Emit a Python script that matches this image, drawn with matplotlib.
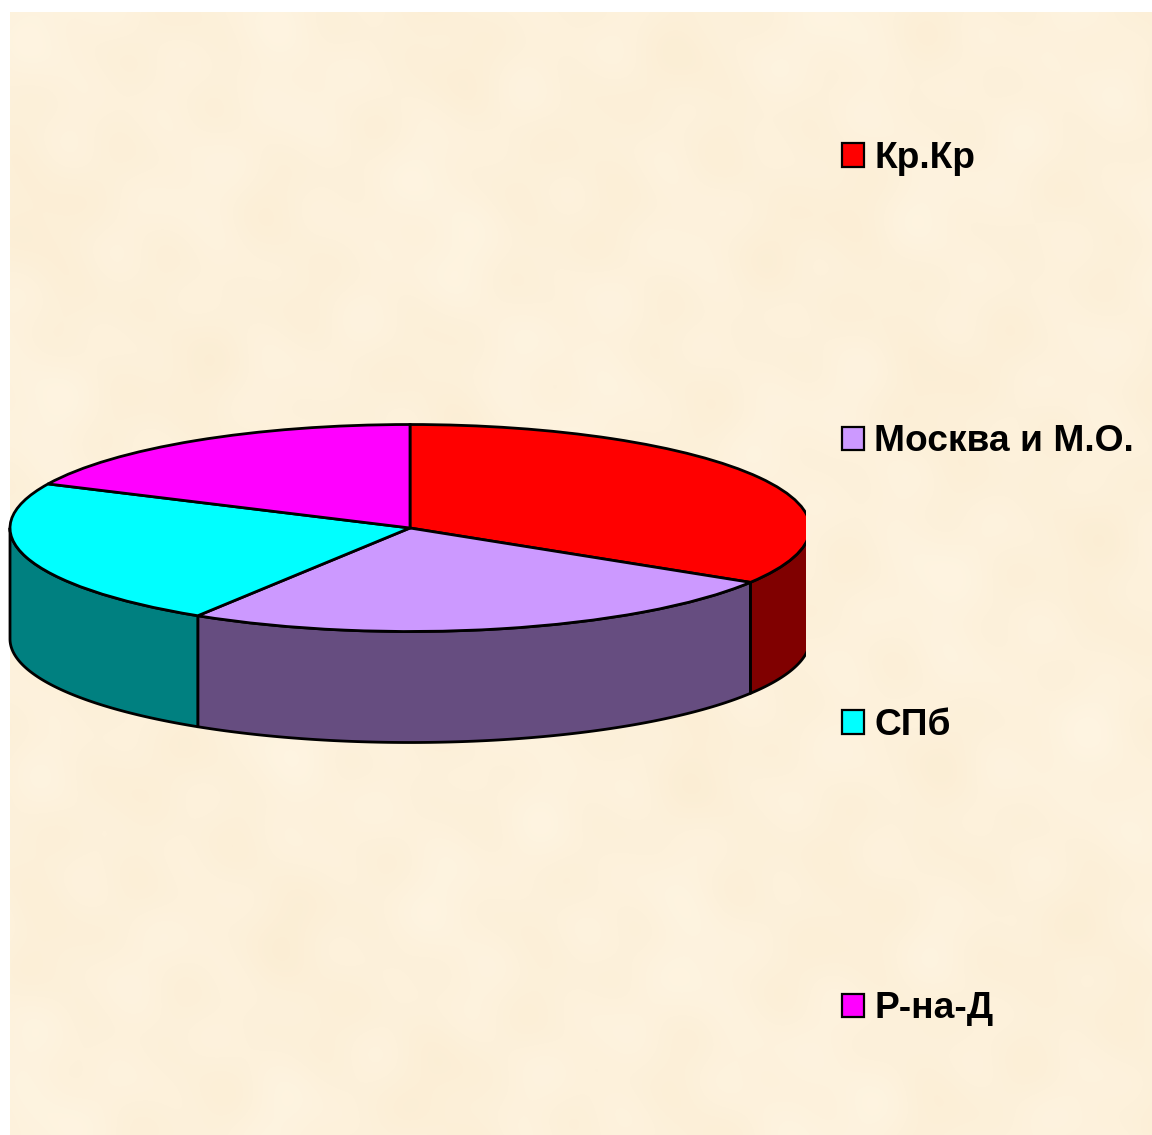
import numpy as np
import matplotlib
matplotlib.use("Agg")
import matplotlib.pyplot as plt
from matplotlib.patches import Patch

# Data
categories = ["Кр.Кр", "Москва и М.О.", "СПб", "Р-на-Д"]
values = [33.8, 25.1, 23.1, 18.0]
top_colors = ["#FF0000", "#CC99FF", "#00FFFF", "#FF00FF"]
side_colors = ["#800000", "#664D80", "#008080", "#800080"]

W, H = 1152, 1135
plt.rcParams["font.family"] = ["Liberation Sans", "DejaVu Sans"]
fig = plt.figure(figsize=(W / 100, H / 100), dpi=100, facecolor="white")


def box(l, t, r, b):
    return [l / W, 1 - b / H, (r - l) / W, (b - t) / H]


# Parchment background: soft, irregular mottling
bg = fig.add_axes(box(10, 12, W, H), zorder=0)
bg.axis("off")
yy, xx = np.mgrid[0:H - 12, 0:W - 10]
tex = (np.sin(xx / 41.0 + 0.7) * np.sin(yy / 57.0 + 1.1)
       + 0.8 * np.sin(xx / 23.3 + yy / 61.0) * np.sin(yy / 29.0 - xx / 97.0 + 0.9)
       + 0.7 * np.sin(xx / 17.1 - yy / 37.0 + 2.0) * np.sin(xx / 71.0 + yy / 19.7)
       + 0.5 * np.sin(xx / 113.0 - yy / 89.0 + 0.4))
tex = tex / np.abs(tex).max()
base = np.array([253, 241, 219]) / 255.0
amp = np.array([1.5, 3.5, 7]) / 255.0
img = np.clip(base[None, None, :] + tex[..., None] * amp[None, None, :], 0, 1)
bg.imshow(img, aspect="auto", interpolation="bilinear")

# Pie: pixel geometry of the tilted disc
cx, cy, rx, ry, depth = 410, 528, 400, 103.5, 111
clip_left, clip_right = 8, 806
ax = fig.add_axes(box(clip_left, 400, clip_right, 760), zorder=1)
ax.patch.set_alpha(0)
lw = 2.0

# Side walls, visible only on the front half
frac = np.array(values) / np.sum(values)
ends = 90 - 360 * np.cumsum(frac)
starts = np.r_[90, ends[:-1]]
d = depth / ry
for a0, a1, col in zip(starts, ends, side_colors):
    lo, hi = max(a1, -180), min(a0, 0)
    if hi <= lo:
        continue
    t = np.radians(np.linspace(hi, lo, 120))
    x = np.r_[np.cos(t), np.cos(t[::-1])]
    y = np.r_[np.sin(t), np.sin(t[::-1]) - d]
    ax.fill(x, y, facecolor=col, edgecolor="black", linewidth=lw, joinstyle="round")

# Top face
wedges, _ = ax.pie(values, colors=top_colors, startangle=90, counterclock=False, radius=1,
                   wedgeprops=dict(edgecolor="black", linewidth=lw), normalize=True)
for w in wedges:
    w.set_clip_on(True)
    w.set_clip_path(ax.patch)
ax.set_aspect("auto")
ax.set_xlim((clip_left - cx) / rx, (clip_right - cx) / rx)
ax.set_ylim((cy - 760) / ry, (cy - 400) / ry)
ax.axis("off")

# Legend
handles = [Patch(facecolor=c, edgecolor="black", linewidth=1.6) for c in top_colors]
leg = fig.legend(handles, categories, loc="upper left",
                 bbox_to_anchor=(842 / W, 1 - 141 / H), frameon=False,
                 prop=dict(weight="bold", size=26.7), labelspacing=6.7,
                 handlelength=0.6, handleheight=0.6, handletextpad=0.27,
                 borderpad=0, borderaxespad=0)
leg.set_zorder(3)

fig.savefig("out.png", dpi=100, facecolor="white")
